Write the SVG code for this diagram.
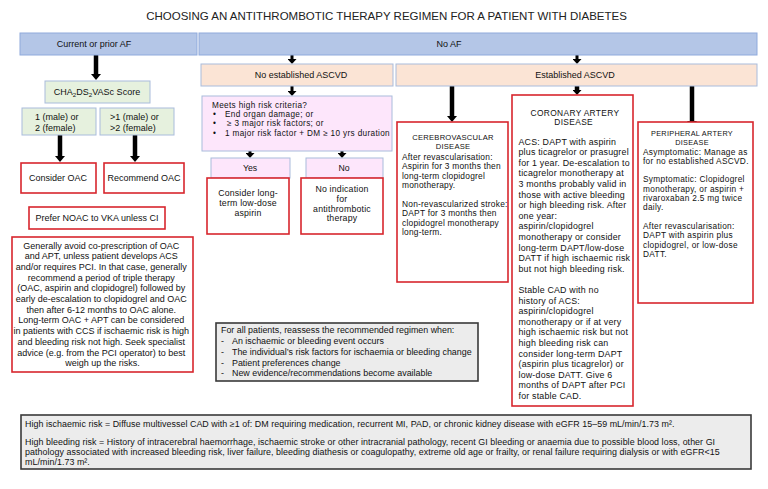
<svg xmlns="http://www.w3.org/2000/svg" width="768" height="489" viewBox="0 0 768 489">
<style>
text{font-family:"Liberation Sans",Arial,sans-serif;fill:#111;font-size:9px}
.c{text-anchor:middle}
.title{font-size:11.5px;fill:#222}
.blue{fill:#b4c6e7;stroke:#8faadc;stroke-width:1}
.peach{fill:#fbe4d5;stroke:#a9bcdc;stroke-width:1}
.green{fill:#e6f1de;stroke:#a9bcdc;stroke-width:1}
.pink{fill:#fde6fb;stroke:#a9bcdc;stroke-width:1}
.red{fill:#fff;stroke:#d7262d;stroke-width:1.6}
.gray{fill:#ececec;stroke:#3a3a3a;stroke-width:1.6}
.conn path{stroke:#000;fill:none}
.thick{stroke-width:4.5}
.thin{stroke-width:3}
.pk{font-size:8.2px;letter-spacing:0.35px}
.yn{font-size:8.7px}
.ab{font-size:8.75px;letter-spacing:0.2px}
.m{font-size:9px}
.cv{font-size:8.4px;letter-spacing:0.23px}
.pa{font-size:8.3px;letter-spacing:0.3px}
.cad{font-size:8.85px;letter-spacing:0.2px}
.hc{font-size:7.6px}
.hp{font-size:7.3px}
.ch{font-size:8.4px;letter-spacing:0.35px}
.rs{font-size:8.9px}
.df{font-size:8.9px;letter-spacing:0.05px}
.l{text-anchor:start}
</style>
<defs>
<marker id="ah" viewBox="0 0 6 10" refX="0" refY="5" markerWidth="6" markerHeight="10" markerUnits="userSpaceOnUse" orient="auto">
<path d="M0,0 L6,5 L0,10 z" fill="#000"/>
</marker>
<marker id="ahs" viewBox="0 0 5 9" refX="0" refY="4.5" markerWidth="5" markerHeight="9" markerUnits="userSpaceOnUse" orient="auto">
<path d="M0,0 L5,4.5 L0,9 z" fill="#000"/>
</marker>
</defs>
<rect width="768" height="489" fill="#fff"/>
<text class="title c" x="386.5" y="20">CHOOSING AN ANTITHROMBOTIC THERAPY REGIMEN FOR A PATIENT WITH DIABETES</text>

<g id="connectors" class="conn">
<path class="thick" d="M96,55 V74" marker-end="url(#ah)"/>
<path class="thick" d="M60,135 V156" marker-end="url(#ah)"/>
<path class="thick" d="M135,135 V156" marker-end="url(#ah)"/>
<path class="thin" d="M292,55 V59" marker-end="url(#ahs)"/>
<path class="thin" d="M577,55 V59" marker-end="url(#ahs)"/>
<path class="thin" d="M292,86 V91" marker-end="url(#ahs)"/>
<path class="thin" d="M250,151 V153" marker-end="url(#ahs)"/>
<path class="thin" d="M342,151 V153" marker-end="url(#ahs)"/>
<path class="thick" d="M452,86 V116" marker-end="url(#ah)"/>
<path class="thick" d="M577,86 V90" marker-end="url(#ahs)"/>
<path class="thick" d="M692,86 V121" marker-end="url(#ah)"/>
</g>

<g id="current-af">
<rect class="blue" x="20" y="33" width="177" height="22"/>
<text class="c" x="94" y="47.2">Current or prior AF</text>
</g>
<g id="no-af">
<rect class="blue" x="199" y="33" width="558" height="22"/>
<text class="c" x="449" y="47.2">No AF</text>
</g>

<g id="cha2ds2vasc">
<rect class="green" x="45" y="81" width="105" height="22"/>
<text class="c" x="97" y="95">CHA<tspan dy="2" font-size="6.2">2</tspan><tspan dy="-2">DS</tspan><tspan dy="2" font-size="6.2">2</tspan><tspan dy="-2">VASc Score</tspan></text>
</g>
<g id="score-low">
<rect class="green" x="22" y="108" width="74" height="27"/>
<text><tspan x="35" y="120">1 (male) or</tspan><tspan x="35" y="130.5">2 (female)</tspan></text>
</g>
<g id="score-high">
<rect class="green" x="100" y="108" width="74" height="27"/>
<text><tspan x="110" y="120">&gt;1 (male) or</tspan><tspan x="110" y="130.5">&gt;2 (female)</tspan></text>
</g>
<g id="consider-oac">
<rect class="red" x="21" y="163" width="75" height="30"/>
<text class="c" x="58" y="181.2">Consider OAC</text>
</g>
<g id="recommend-oac">
<rect class="red" x="104" y="163" width="80" height="30"/>
<text class="c" x="144" y="181.2">Recommend OAC</text>
</g>
<g id="prefer-noac">
<rect class="red" x="29" y="207" width="136" height="22"/>
<text class="c" x="97" y="221.2">Prefer NOAC to VKA unless CI</text>
</g>
<g id="oac-apt-note">
<rect class="red" x="12" y="237" width="181" height="135"/>
<text class="c m" x="102.5" y="248.5">
<tspan x="102.5" dy="0">Generally avoid co-prescription of OAC</tspan>
<tspan x="102.5" dy="10.7">and APT, unless patient develops ACS</tspan>
<tspan x="102.5" dy="10.7">and/or requires PCI. In that case, generally</tspan>
<tspan x="102.5" dy="10.7">recommend a period of triple therapy</tspan>
<tspan x="102.5" dy="10.7">(OAC, aspirin and clopidogrel) followed by</tspan>
<tspan x="102.5" dy="10.7">early de-escalation to clopidogrel and OAC</tspan>
<tspan x="102.5" dy="10.7">then after 6-12 months to OAC alone.</tspan>
<tspan x="102.5" dy="10.7">Long-term OAC + APT can be considered</tspan>
<tspan x="102.5" dy="10.7">in patients with CCS if ischaemic risk is high</tspan>
<tspan x="102.5" dy="10.7">and bleeding risk not high. Seek specialist</tspan>
<tspan x="102.5" dy="10.7">advice (e.g. from the PCI operator) to best</tspan>
<tspan x="102.5" dy="10.7">weigh up the risks.</tspan>
</text>
</g>

<g id="no-ascvd">
<rect class="peach" x="201" y="64" width="192" height="22"/>
<text class="c" x="301" y="78.2">No established ASCVD</text>
</g>
<g id="established-ascvd">
<rect class="peach" x="396" y="64" width="361" height="22"/>
<text class="c" x="575" y="78.2">Established ASCVD</text>
</g>

<g id="high-risk">
<rect class="pink" x="202" y="96" width="190" height="55"/>
<text class="pk"><tspan x="212" y="108">Meets high risk criteria?</tspan><tspan x="213" y="117.2">•</tspan><tspan x="225" y="117.2">End organ damage; or</tspan><tspan x="213" y="126.4">•</tspan><tspan x="227" y="126.4">≥ 3 major risk factors; or</tspan><tspan x="213" y="135.6">•</tspan><tspan x="225" y="135.6">1 major risk factor + DM ≥ 10 yrs duration</tspan></text>
</g>
<g id="yes">
<rect class="pink" x="211" y="158" width="79" height="20"/>
<text class="c yn" x="250" y="171.2">Yes</text>
</g>
<g id="no">
<rect class="pink" x="306" y="158" width="77" height="20"/>
<text class="c yn" x="344" y="171.2">No</text>
</g>
<g id="aspirin">
<rect class="red" x="207" y="178" width="82" height="56"/>
<text class="c ab"><tspan x="248" y="195.5">Consider long-</tspan><tspan x="248" y="205.5">term low-dose</tspan><tspan x="248" y="215.5">aspirin</tspan></text>
</g>
<g id="no-indication">
<rect class="red" x="301" y="178" width="82" height="56"/>
<text class="c ab"><tspan x="342" y="192">No indication</tspan><tspan x="342" y="201.8">for</tspan><tspan x="342" y="211.6">antithrombotic</tspan><tspan x="342" y="221.4">therapy</tspan></text>
</g>

<g id="cerebrovascular">
<rect class="red" x="397" y="122" width="111" height="160"/>
<text class="cv"><tspan class="c hc" x="453" y="140">CEREBROVASCULAR</tspan><tspan class="c hc" x="453" y="149.2">DISEASE</tspan><tspan class="l" x="402" y="160">After revascularisation:</tspan><tspan class="l" x="402" y="169.4">Aspirin for 3 months then</tspan><tspan class="l" x="402" y="178.8">long-term clopidogrel</tspan><tspan class="l" x="402" y="188.2">monotherapy.</tspan><tspan class="l" x="402" y="207">Non-revascularized stroke:</tspan><tspan class="l" x="402" y="216.4">DAPT for 3 months then</tspan><tspan class="l" x="402" y="225.8">clopidogrel monotherapy</tspan><tspan class="l" x="402" y="235.2">long-term.</tspan></text>
</g>

<g id="coronary">
<rect class="red" x="512" y="95" width="121" height="311"/>
<text class="cad"><tspan class="c ch" x="575" y="115.5">CORONARY ARTERY</tspan><tspan class="c ch" x="575" y="125">DISEASE</tspan>
<tspan class="l" x="518.5" y="144.5">ACS: DAPT with aspirin</tspan>
<tspan class="l" x="518.5" dy="10.6">plus ticagrelor or prasugrel</tspan>
<tspan class="l" x="518.5" dy="10.6">for 1 year. De-escalation to</tspan>
<tspan class="l" x="518.5" dy="10.6">ticagrelor monotherapy at</tspan>
<tspan class="l" x="518.5" dy="10.6">3 months probably valid in</tspan>
<tspan class="l" x="518.5" dy="10.6">those with active bleeding</tspan>
<tspan class="l" x="518.5" dy="10.6">or high bleeding risk. After</tspan>
<tspan class="l" x="518.5" dy="10.6">one year:</tspan>
<tspan class="l" x="518.5" dy="10.6">aspirin/clopidogrel</tspan>
<tspan class="l" x="518.5" dy="10.6">monotherapy or consider</tspan>
<tspan class="l" x="518.5" dy="10.6">long-term DAPT/low-dose</tspan>
<tspan class="l" x="518.5" dy="10.6">DATT if high ischaemic risk</tspan>
<tspan class="l" x="518.5" dy="10.6">but not high bleeding risk.</tspan>
<tspan class="l" x="518.5" dy="21.2">Stable CAD with no</tspan>
<tspan class="l" x="518.5" dy="10.6">history of ACS:</tspan>
<tspan class="l" x="518.5" dy="10.6">aspirin/clopidogrel</tspan>
<tspan class="l" x="518.5" dy="10.6">monotherapy or if at very</tspan>
<tspan class="l" x="518.5" dy="10.6">high ischaemic risk but not</tspan>
<tspan class="l" x="518.5" dy="10.6">high bleeding risk can</tspan>
<tspan class="l" x="518.5" dy="10.6">consider long-term DAPT</tspan>
<tspan class="l" x="518.5" dy="10.6">(aspirin plus ticagrelor) or</tspan>
<tspan class="l" x="518.5" dy="10.6">low-dose DATT. Give 6</tspan>
<tspan class="l" x="518.5" dy="10.6">months of DAPT after PCI</tspan>
<tspan class="l" x="518.5" dy="10.6">for stable CAD.</tspan>
</text>
</g>

<g id="peripheral">
<rect class="red" x="638" y="122" width="115" height="181"/>
<text class="pa"><tspan class="c hp" x="692" y="135.5">PERIPHERAL ARTERY</tspan><tspan class="c hp" x="692" y="144.7">DISEASE</tspan><tspan class="l" x="643" y="154.8">Asymptomatic: Manage as</tspan><tspan class="l" x="643" y="164.1">for no established ASCVD.</tspan><tspan class="l" x="643" y="182.4">Symptomatic: Clopidogrel</tspan><tspan class="l" x="643" y="191.7">monotherapy, or aspirin +</tspan><tspan class="l" x="643" y="201">rivaroxaban 2.5 mg twice</tspan><tspan class="l" x="643" y="210.3">daily.</tspan><tspan class="l" x="643" y="229.1">After revascularisation:</tspan><tspan class="l" x="643" y="238.4">DAPT with aspirin plus</tspan><tspan class="l" x="643" y="247.7">clopidogrel, or low-dose</tspan><tspan class="l" x="643" y="257">DATT.</tspan></text>
</g>

<g id="reassess">
<rect class="gray" x="216" y="323" width="262" height="58"/>
<text class="rs"><tspan x="221" y="332.5">For all patients, reassess the recommended regimen when:</tspan><tspan x="221" y="343.7">-</tspan><tspan x="232" y="343.7">An ischaemic or bleeding event occurs</tspan><tspan x="221" y="354.7">-</tspan><tspan x="232" y="354.7">The individual’s risk factors for ischaemia or bleeding change</tspan><tspan x="221" y="365.5">-</tspan><tspan x="232" y="365.5">Patient preferences change</tspan><tspan x="221" y="376.3">-</tspan><tspan x="232" y="376.3">New evidence/recommendations become available</tspan></text>
</g>

<g id="definitions">
<rect class="gray" x="21" y="415" width="730" height="54"/>
<text class="df"><tspan x="25" y="427">High ischaemic risk = Diffuse multivessel CAD with ≥1 of: DM requiring medication, recurrent MI, PAD, or chronic kidney disease with eGFR 15–59 mL/min/1.73 m².</tspan><tspan x="25" y="445">High bleeding risk = History of intracerebral haemorrhage, ischaemic stroke or other intracranial pathology, recent GI bleeding or anaemia due to possible blood loss, other GI</tspan><tspan x="25" y="455">pathology associated with increased bleeding risk, liver failure, bleeding diathesis or coagulopathy, extreme old age or frailty, or renal failure requiring dialysis or with eGFR&lt;15</tspan><tspan x="25" y="465">mL/min/1.73 m².</tspan></text>
</g>
</svg>
